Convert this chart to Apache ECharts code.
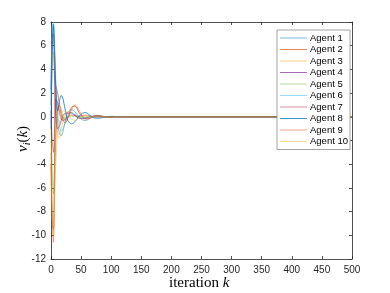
<!DOCTYPE html>
<html><head><meta charset="utf-8">
<script src="https://cdn.jsdelivr.net/npm/echarts@6/dist/echarts.min.js"></script>
<style>html,body{margin:0;padding:0;background:#fff}#c{width:390px;height:293px}</style>
</head><body><div id="c"></div>
<script>
const K = [0,2,4,6,8,11,14,17,20,24,28,34,40,46,52,58,64,70,76,82,90,100,120,150,500];
const agent1 = [1.0,6.5,7.6,5,2,-0.5,-1.4,-1.6,-1.2,-0.3,0.4,0.6,0.4,0.0,-0.25,-0.3,-0.15,0.05,0.12,0.1,0,-0.04,0.01,0,0];
const agent2 = [-4,-9,-9.5,-3,2.6,2.0,1.0,0.2,-0.3,-0.5,-0.1,0.8,0.9,0.4,0,-0.15,-0.1,0,0.08,0.06,0,-0.02,0,0,0];
const agent3 = [1,4,5.5,3,1,-1.5,-1.8,-1.0,-0.4,0.2,0.4,0.3,0.1,-0.1,-0.1,-0.05,0,0.03,0.03,0.01,0,0,0,0,0];
const agent4 = [2.3,6.8,7.0,3,0,-1.0,-0.8,-0.3,0.1,0.3,0.3,0.35,0.1,-0.1,-0.15,-0.1,0,0.05,0.05,0.02,0,0,0,0,0];
const agent5 = [-1,-4.5,-6.5,-4,-1,0.8,0.5,0,-0.1,-0.1,0,0.05,0.05,0,-0.02,0,0,0,0,0,0,0,0,0,0];
const agent6 = [2,7.5,8,6,3,0.5,-0.8,-1.2,-1.0,-0.4,0.1,0.3,0.2,0,-0.1,-0.1,-0.05,0,0.03,0.02,0,0,0,0,0];
const agent7 = [0.5,-2,-3,-1,1.5,1.2,0.3,-0.2,-0.3,-0.2,0,0.15,0.1,0.05,0.1,0.15,0.1,0,-0.02,-0.02,0,0,0,0,0];
const agent8 = [-1,5,7.8,5.5,2.5,0.5,1.3,1.8,1.5,0.5,-0.3,-0.6,-0.4,0,0.3,0.35,0.15,-0.05,-0.12,-0.1,0,0.04,0,0,0];
const agent9 = [-3,-8,-10.6,-6,-2,0.5,1.0,0.6,0.0,-0.3,-0.1,0.6,1.0,0.6,0.1,-0.2,-0.15,0,0.1,0.08,0,-0.03,0,0,0];
const agent10 = [-2,-8,-10,-7,-4,-1.5,-0.5,0.3,0.5,0.4,0.1,-0.2,-0.3,-0.1,0.05,0.1,0.05,0,-0.03,-0.02,0,0,0,0,0];
const names = ['Agent 1','Agent 2','Agent 3','Agent 4','Agent 5','Agent 6','Agent 7','Agent 8','Agent 9','Agent 10'];
const values = [agent1,agent2,agent3,agent4,agent5,agent6,agent7,agent8,agent9,agent10];
const xTicks = {min:0,max:500,interval:50};
const yTicks = {min:-12,max:8,interval:2};

const colors = ['rgba(0,114,189,0.5)','rgba(217,83,25,0.7)','rgba(237,177,32,0.55)','rgba(126,47,142,0.7)','rgba(119,172,48,0.5)','rgba(77,190,238,0.55)','rgba(162,20,47,0.45)','rgba(0,114,189,0.75)','rgba(217,83,25,0.5)','rgba(237,177,32,0.45)'];

const chart = echarts.init(document.getElementById('c'), null, {renderer:'canvas'});
const axisCol = '#262626';
const lbl = {color:'#262626', fontFamily:'Liberation Sans, Arial, sans-serif', fontSize:10};
function xa(pos, showLabel){return {type:'value', position:pos, min:xTicks.min, max:xTicks.max, interval:xTicks.interval,
  axisLine:{show:true,onZero:false,lineStyle:{color:axisCol,width:0.8}}, axisTick:{show:true,inside:true,length:3,lineStyle:{color:axisCol,width:0.8}},
  axisLabel:Object.assign({show:showLabel, margin:6}, lbl), splitLine:{show:false}};}
function ya(pos, showLabel){return {type:'value', position:pos, min:yTicks.min, max:yTicks.max, interval:yTicks.interval,
  axisLine:{show:true,onZero:false,lineStyle:{color:axisCol,width:0.8}}, axisTick:{show:true,inside:true,length:3,lineStyle:{color:axisCol,width:0.8}},
  axisLabel:Object.assign({show:showLabel, margin:5}, lbl), splitLine:{show:false}};}

chart.setOption({
  animation:false,
  backgroundColor:'#fff',
  grid:{left:51, right:38, top:22, bottom:34},
  xAxis:[xa('bottom',true), xa('top',false)],
  yAxis:[ya('left',true), ya('right',false)],
  legend:{orient:'vertical', left:277, top:30, itemWidth:27, itemHeight:8, itemGap:1.5,
    backgroundColor:'#fff', borderColor:'#8c8c8c', borderWidth:0.8, padding:[3,2,3,3],
    textStyle:{fontFamily:'Liberation Sans, Arial, sans-serif', fontSize:9.5, color:'#000', padding:[0,0,0,-2]},
    icon:'path://M0,4L27,4L27,5L0,5Z',
    data:names},
  series: names.map((n,i)=>({name:n, type:'line', xAxisIndex:0, yAxisIndex:0, smooth:0.35, showSymbol:false, symbol:'none',
    lineStyle:{width:1, color:colors[i]}, itemStyle:{color:colors[i]},
    data:K.map((k,j)=>[k, values[i][j]])})),
  graphic:[
    {type:'text', x:169, y:276, style:{rich:{a:{fontFamily:'Liberation Serif, serif', fontSize:15, fill:'#000'}, b:{fontFamily:'Liberation Serif, serif', fontStyle:'italic', fontSize:15, fill:'#000'}}, text:'{a|iteration }{b|k}'}},
    {type:'text', x:14, y:152, rotation:Math.PI/2, style:{text:'{v|v}{s|i}{p|(}{k|k}{p|)}', rich:{
      v:{fontFamily:'Liberation Serif, serif', fontStyle:'italic', fontSize:15, fill:'#000', lineHeight:18, verticalAlign:'middle'},
      s:{fontFamily:'Liberation Serif, serif', fontStyle:'italic', fontSize:10, fill:'#000', lineHeight:18, verticalAlign:'bottom'},
      p:{fontFamily:'Liberation Serif, serif', fontSize:15, fill:'#000', lineHeight:18, verticalAlign:'middle'},
      k:{fontFamily:'Liberation Serif, serif', fontStyle:'italic', fontSize:15, fill:'#000', lineHeight:18, verticalAlign:'middle'}}}}
  ]
});
</script></body></html>
